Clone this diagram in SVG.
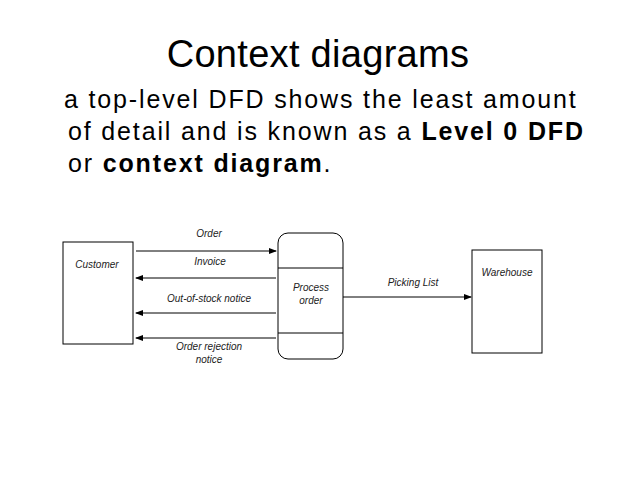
<svg xmlns="http://www.w3.org/2000/svg" width="638" height="479" viewBox="0 0 638 479">
<defs>
<marker id="ah" markerWidth="8" markerHeight="6" refX="7" refY="3" orient="auto" markerUnits="userSpaceOnUse"><path d="M0,0 L8,3 L0,6 z" fill="#000"/></marker>
<style>
.lbl{font-family:"Liberation Sans",Arial,sans-serif;font-size:10px;font-style:italic;fill:#222;text-anchor:middle}
.box{fill:#fff;stroke:#000;stroke-width:1}
.ln{stroke:#000;stroke-width:1;fill:none;marker-end:url(#ah)}
.body{font-family:"Liberation Sans",Arial,sans-serif;font-size:25px;letter-spacing:1.85px;fill:#000}
</style>
</defs>
<rect width="638" height="479" fill="#fff"/>
<text x="318" y="67" text-anchor="middle" style="font-family:'Liberation Sans',Arial,sans-serif;font-size:38px;letter-spacing:0.3px">Context diagrams</text>
<text class="body" x="64" y="108">a top-level DFD shows the least amount</text>
<text class="body" x="68" y="140">of detail and is known as a <tspan font-weight="bold">Level 0 DFD</tspan></text>
<text class="body" x="68" y="172">or <tspan font-weight="bold">context diagram</tspan>.</text>
<g id="customer"><rect class="box" x="63" y="242" width="70" height="102"/><text class="lbl" x="97" y="268">Customer</text></g>
<g id="process"><rect class="box" x="278" y="233" width="65" height="126" rx="10"/><line x1="278" y1="268" x2="343" y2="268" stroke="#000"/><line x1="278" y1="333" x2="343" y2="333" stroke="#000"/><text class="lbl" x="311" y="291">Process</text><text class="lbl" x="311" y="304">order</text></g>
<g id="warehouse"><rect class="box" x="472" y="250" width="70" height="103"/><text class="lbl" x="507" y="276">Warehouse</text></g>
<g id="connectors">
<line class="ln" x1="136" y1="251" x2="276" y2="251"/>
<line class="ln" x1="276" y1="278" x2="136" y2="278"/>
<line class="ln" x1="276" y1="313" x2="136" y2="313"/>
<line class="ln" x1="276" y1="338" x2="136" y2="338"/>
<line class="ln" x1="343" y1="297" x2="471" y2="297"/>
<text class="lbl" x="209" y="237">Order</text>
<text class="lbl" x="210" y="265">Invoice</text>
<text class="lbl" x="209" y="302">Out-of-stock notice</text>
<text class="lbl" x="209" y="350">Order rejection</text>
<text class="lbl" x="209" y="363">notice</text>
<text class="lbl" x="413" y="286">Picking List</text>
</g>
</svg>
